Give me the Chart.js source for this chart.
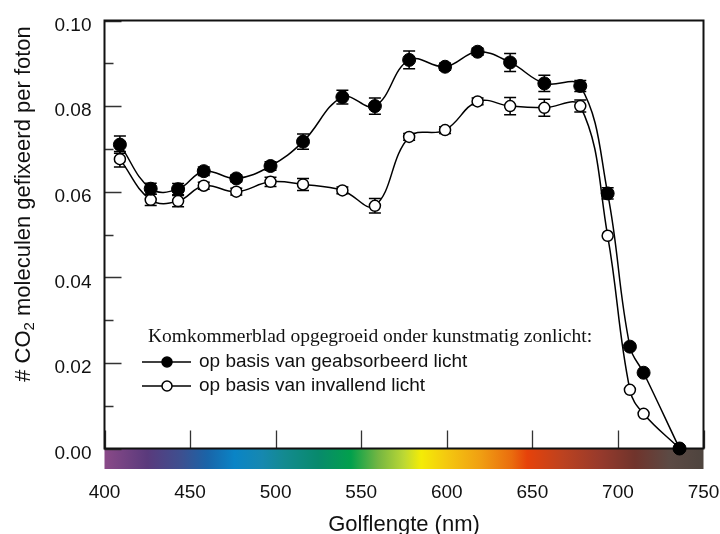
<!DOCTYPE html>
<html>
<head>
<meta charset="utf-8">
<script src="https://cdn.jsdelivr.net/npm/chart.js@4/dist/chart.umd.min.js"></script>
<style>
  html, body { margin: 0; padding: 0; background: #fff; }
  canvas { display: block; }
</style>
</head>
<body>
<canvas id="chart" width="720" height="534"></canvas>
<script>
// golflengte (nm)
const wavelengths = [409, 427, 443, 458, 477, 497, 516, 539, 558, 578, 599, 618, 637, 657, 678, 694, 707, 715, 736];
// op basis van geabsorbeerd licht
const absorbed = [0.0710, 0.0607, 0.0606, 0.0648, 0.0631, 0.0660, 0.0717, 0.0821, 0.0800, 0.0908, 0.0892, 0.0927, 0.0902, 0.0853, 0.0847, 0.0596, 0.0238, 0.0177, 0.0000];
const absorbedErr = [0.0020, 0.0013, 0.0013, 0.0010, 0.0008, 0.0010, 0.0018, 0.0016, 0.0019, 0.0021, 0.0008, 0.0008, 0.0021, 0.0019, 0.0013, 0.0013, 0, 0, 0];
// op basis van invallend licht
const incident = [0.0676, 0.0581, 0.0578, 0.0614, 0.0600, 0.0623, 0.0617, 0.0603, 0.0567, 0.0728, 0.0744, 0.0811, 0.0800, 0.0796, 0.0800, 0.0497, 0.0137, 0.0081, 0.0000];
const incidentErr = [0.0018, 0.0013, 0.0013, 0.0008, 0.0008, 0.0011, 0.0014, 0.0008, 0.0017, 0.0008, 0.0008, 0.0008, 0.0020, 0.0020, 0.0014, 0, 0, 0, 0];

const xTicks = [400, 450, 500, 550, 600, 650, 700, 750];
const yTicks = [0, 0.02, 0.04, 0.06, 0.08, 0.10];
const yMinorTicks = [0.01, 0.03, 0.05, 0.07, 0.09];

const legendTitle = 'Komkommerblad opgegroeid onder kunstmatig zonlicht:';
const seriesNames = ['op basis van geabsorbeerd licht', 'op basis van invallend licht'];

// kleuren van het spectrum onder de x-as
const spectrum = [
    [400, '#8a4a88'], [425, '#5a3a7c'], [445, '#3d5090'], [460, '#1a64a8'], [476, '#0a84c6'],
    [492, '#1688b0'], [505, '#138a90'], [525, '#088a6c'], [544, '#02a04c'], [560, '#74b642'],
    [575, '#bcd834'], [585, '#f4ec06'], [600, '#f4c810'], [620, '#f09e12'], [638, '#ea6c0e'],
    [647, '#e6420a'], [668, '#bc4220'], [690, '#963a2c'], [710, '#70342c'], [730, '#5c4a44'],
    [750, '#4e443e']
];

const sans = '"Liberation Sans", Arial, sans-serif';
const serif = '"Liberation Serif", "Times New Roman", serif';

const toPoints = (ys) => ys.map((y, i) => ({ x: wavelengths[i], y: y }));

const decorations = {
    id: 'decorations',
    beforeDatasetsDraw(chart) {
        const { ctx, chartArea: a, scales: { x, y } } = chart;
        ctx.save();

        // spectrum
        const x0 = x.getPixelForValue(400), x1 = x.getPixelForValue(750);
        const grad = ctx.createLinearGradient(x0, 0, x1, 0);
        spectrum.forEach(([nm, c]) => grad.addColorStop((nm - 400) / 350, c));
        ctx.fillStyle = grad;
        ctx.fillRect(x0, a.bottom, x1 - x0, 20.5);

        // tick marks inside the frame
        ctx.strokeStyle = '#333';
        ctx.lineWidth = 1.3;
        ctx.beginPath();
        yTicks.forEach(v => {
            const py = Math.round(y.getPixelForValue(v)) + 0.5;
            ctx.moveTo(a.left, py); ctx.lineTo(a.left + 17, py);
        });
        yMinorTicks.forEach(v => {
            const py = Math.round(y.getPixelForValue(v)) + 0.5;
            ctx.moveTo(a.left, py); ctx.lineTo(a.left + 9, py);
        });
        xTicks.forEach(v => {
            const px = Math.round(x.getPixelForValue(v)) + 0.5;
            ctx.moveTo(px, a.bottom); ctx.lineTo(px, a.bottom - 18);
        });
        ctx.stroke();

        // frame
        ctx.strokeStyle = '#111';
        ctx.lineWidth = 2;
        ctx.strokeRect(a.left, a.top, a.right - a.left, a.bottom - a.top);

        // error bars
        ctx.strokeStyle = '#000';
        ctx.lineWidth = 1.5;
        [[absorbed, absorbedErr], [incident, incidentErr]].forEach(([vals, errs]) => {
            vals.forEach((v, i) => {
                if (!errs[i]) return;
                const px = x.getPixelForValue(wavelengths[i]);
                const top = y.getPixelForValue(v + errs[i]);
                const bot = y.getPixelForValue(v - errs[i]);
                ctx.beginPath();
                ctx.moveTo(px, top); ctx.lineTo(px, bot);
                ctx.moveTo(px - 6, top); ctx.lineTo(px + 6, top);
                ctx.moveTo(px - 6, bot); ctx.lineTo(px + 6, bot);
                ctx.stroke();
            });
        });
        ctx.restore();
    },
    afterDraw(chart) {
        const { ctx } = chart;
        ctx.save();
        ctx.fillStyle = '#111';

        // y-as titel met subscript
        ctx.translate(24, 204);
        ctx.rotate(-Math.PI / 2);
        ctx.textBaseline = 'middle';
        ctx.textAlign = 'left';
        const big = '22px ' + sans, small = '15px ' + sans;
        ctx.font = big;
        const p1 = '# CO', p3 = ' moleculen gefixeerd per foton';
        const w1 = ctx.measureText(p1).width, w3 = ctx.measureText(p3).width;
        ctx.font = small;
        const w2 = ctx.measureText('2').width;
        let sx = -(w1 + w2 + w3) / 2;
        ctx.font = big;
        ctx.fillText(p1, sx, 0);
        ctx.font = small;
        ctx.fillText('2', sx + w1, 6);
        ctx.font = big;
        ctx.fillText(p3, sx + w1 + w2, 0);
        ctx.setTransform(1, 0, 0, 1, 0, 0);

        // x-as titel
        ctx.textAlign = 'center';
        ctx.font = '22px ' + sans;
        ctx.fillText('Golflengte (nm)', (chart.chartArea.left + chart.chartArea.right) / 2, 525);

        // legenda
        ctx.textAlign = 'left';
        ctx.font = '19.5px ' + serif;
        ctx.fillText(legendTitle, 148, 337);
        ctx.font = '19px ' + sans;
        const rows = [362, 386];
        rows.forEach((ry, i) => {
            ctx.strokeStyle = '#000';
            ctx.lineWidth = 1.5;
            ctx.beginPath();
            ctx.moveTo(142, ry); ctx.lineTo(191, ry);
            ctx.stroke();
            ctx.beginPath();
            ctx.arc(167, ry, 5, 0, Math.PI * 2);
            ctx.fillStyle = i === 0 ? '#000' : '#fff';
            ctx.fill();
            ctx.stroke();
            ctx.fillStyle = '#111';
            ctx.fillText(seriesNames[i], 199, ry);
        });
        ctx.restore();
    }
};

new Chart('chart', {
    type: 'line',
    data: {
        datasets: [{
            label: seriesNames[0],
            data: toPoints(absorbed),
            borderColor: '#000',
            borderWidth: 1.5,
            backgroundColor: '#000',
            pointBackgroundColor: '#000',
            pointBorderColor: '#000',
            pointRadius: 6.5,
            pointBorderWidth: 1,
            tension: 0.4,
            clip: false,
            order: 0
        }, {
            label: seriesNames[1],
            data: toPoints(incident),
            borderColor: '#000',
            borderWidth: 1.5,
            pointBackgroundColor: '#fff',
            pointBorderColor: '#000',
            pointRadius: 5.5,
            pointBorderWidth: 1.5,
            tension: 0.4,
            clip: false,
            order: 1
        }]
    },
    options: {
        responsive: false,
        devicePixelRatio: 1,
        animation: false,
        layout: { padding: { top: 20.5, right: 16.5, left: 0, bottom: 0 } },
        plugins: {
            legend: { display: false },
            tooltip: { enabled: false }
        },
        scales: {
            x: {
                type: 'linear',
                min: 400,
                max: 750,
                afterBuildTicks: s => { s.ticks = xTicks.map(v => ({ value: v })); },
                afterFit: s => {
                    s.height = 85.5;
                    s.paddingLeft = 0;
                    s.paddingRight = 0;
                },
                grid: { display: false, drawTicks: false },
                border: { display: false },
                ticks: {
                    font: { size: 19, family: sans },
                    color: '#111',
                    padding: 33,
                    maxRotation: 0,
                    autoSkip: false
                }
            },
            y: {
                type: 'linear',
                min: 0,
                max: 0.1,
                afterBuildTicks: s => { s.ticks = yTicks.map(v => ({ value: v })); },
                afterFit: s => {
                    s.width = 104.5;
                    s.paddingTop = 0;
                    s.paddingBottom = 0;
                },
                grid: { display: false, drawTicks: false },
                border: { display: false },
                ticks: {
                    font: { size: 19, family: sans },
                    color: '#111',
                    padding: 13,
                    labelOffset: 5,
                    autoSkip: false,
                    callback: v => v.toFixed(2)
                }
            }
        }
    },
    plugins: [decorations]
});
</script>
</body>
</html>
